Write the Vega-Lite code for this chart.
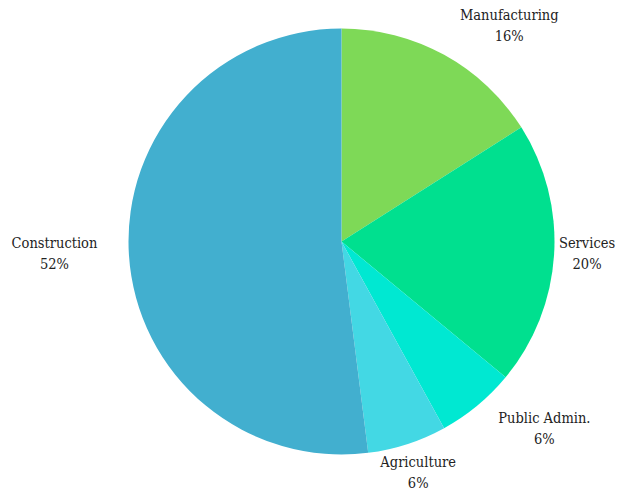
{
  "$schema": "https://vega.github.io/schema/vega-lite/v6.json",
  "autosize": {"type": "none"},
  "width": 561,
  "height": 483,
  "padding": {"left": 61, "top": 0, "right": 4, "bottom": 8},
  "background": "white",
  "config": {"view": {"stroke": null}},
  "data": {"values": [
    {"category": "Manufacturing", "share": 0.16, "order": 1},
    {"category": "Services", "share": 0.20, "order": 2},
    {"category": "Public Admin.", "share": 0.06, "order": 3},
    {"category": "Agriculture", "share": 0.06, "order": 4},
    {"category": "Construction", "share": 0.52, "order": 5}
  ]},
  "encoding": {
    "theta": {"field": "share", "type": "quantitative", "stack": true},
    "order": {"field": "order", "type": "quantitative"}
  },
  "layer": [
    {
      "mark": {"type": "arc", "outerRadius": 213},
      "encoding": {
        "color": {
          "field": "category", "type": "nominal", "legend": null,
          "scale": {
            "domain": ["Manufacturing", "Services", "Public Admin.", "Agriculture", "Construction"],
            "range": ["#7ed957", "#00e08f", "#00e8d2", "#43d8e4", "#42afcf"]
          }
        }
      }
    },
    {
      "mark": {
        "type": "text", "radius": 232, "font": "DejaVu Serif Condensed, DejaVu Serif", "fontSize": 14.5, "color": "#222222",
        "align": "center", "baseline": "middle",
        "dx": {"expr": "datum.category == 'Manufacturing' ? 56 : datum.category == 'Services' ? 14 : datum.category == 'Public Admin.' ? 55 : datum.category == 'Agriculture' ? 5 : -55.5"},
        "dy": {"expr": "(datum.category == 'Manufacturing' ? -12 : datum.category == 'Services' ? -2 : datum.category == 'Public Admin.' ? 9 : datum.category == 'Agriculture' ? 11 : -2) - 10.5"}
      },
      "encoding": {
        "detail": {"field": "category", "type": "nominal"},
        "text": {"field": "category", "type": "nominal"}
      }
    },
    {
      "mark": {
        "type": "text", "radius": 232, "font": "DejaVu Serif Condensed, DejaVu Serif", "fontSize": 14.5, "color": "#222222",
        "align": "center", "baseline": "middle",
        "dx": {"expr": "datum.category == 'Manufacturing' ? 56 : datum.category == 'Services' ? 14 : datum.category == 'Public Admin.' ? 55 : datum.category == 'Agriculture' ? 5 : -55.5"},
        "dy": {"expr": "(datum.category == 'Manufacturing' ? -12 : datum.category == 'Services' ? -2 : datum.category == 'Public Admin.' ? 9 : datum.category == 'Agriculture' ? 11 : -2) + 10.5"}
      },
      "encoding": {
        "detail": {"field": "category", "type": "nominal"},
        "text": {"field": "share", "type": "quantitative", "format": ".0%"}
      }
    }
  ]
}
